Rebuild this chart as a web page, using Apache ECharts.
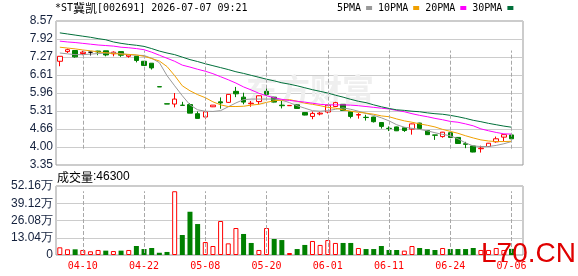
<!DOCTYPE html>
<html>
<head>
<meta charset="utf-8">
<script src="https://cdn.jsdelivr.net/npm/echarts@6/dist/echarts.min.js"></script>
<style>
  html, body { margin: 0; padding: 0; background: #fff; }
  #main { width: 578px; height: 276px; }
</style>
</head>
<body>
<div id="main"></div>
<script>
// 日期 (交易日)
const dates = ['04-07','04-08','04-09','04-10','04-13','04-14','04-15','04-16','04-17','04-20',
  '04-21','04-22','04-23','04-24','04-27','04-28','04-29','04-30','05-07','05-08',
  '05-11','05-12','05-13','05-14','05-15','05-18','05-19','05-20','05-21','05-22',
  '05-25','05-26','05-27','05-28','05-29','06-01','06-02','06-03','06-04','06-05',
  '06-08','06-09','06-10','06-11','06-12','06-15','06-16','06-17','06-18','06-22',
  '06-23','06-24','06-25','06-26','06-29','06-30','07-01','07-02','07-03','07-06']
const labelDates = ['04-10','04-22','05-08','05-20','06-01','06-11','06-24','07-06']

// K线
const opens = [7.11,7.46,7.50,7.39,7.44,7.48,7.49,7.38,7.46,7.29,
  7.29,7.11,7.04,6.19,5.57,5.56,5.52,5.54,5.21,5.09,
  5.46,5.64,5.62,6.02,5.81,5.57,5.65,6.02,5.81,5.52,
  5.50,5.53,5.25,5.11,5.20,5.27,5.47,5.55,5.28,5.16,
  5.08,5.09,4.89,4.68,4.73,4.70,4.65,4.87,4.60,4.44,
  4.38,4.52,4.35,4.12,4.04,3.94,4.02,4.19,4.36,4.44]
const closes = [7.29,7.53,7.27,7.44,7.44,7.45,7.34,7.44,7.33,7.34,
  7.14,6.96,6.87,6.18,5.56,5.74,5.51,5.23,5.04,5.28,
  5.52,5.60,5.91,5.93,5.63,5.59,5.86,5.91,5.63,5.50,
  5.51,5.40,5.16,5.22,5.23,5.52,5.61,5.33,5.11,5.18,
  5.07,4.92,4.75,4.67,4.59,4.60,4.84,4.67,4.45,4.43,
  4.54,4.35,4.13,4.10,3.82,3.96,4.14,4.30,4.45,4.30]
const lows = [6.93,7.41,7.24,7.33,7.32,7.33,7.29,7.29,7.27,7.24,
  7.07,6.95,6.81,6.18,5.56,5.44,5.51,5.23,5.04,5.01,
  5.45,5.39,5.60,5.81,5.55,5.46,5.55,5.86,5.62,5.40,
  5.50,5.39,5.15,5.01,5.15,5.22,5.47,5.32,5.04,5.03,
  4.96,4.89,4.67,4.58,4.58,4.55,4.45,4.66,4.44,4.26,
  4.34,4.34,4.12,3.96,3.81,3.80,4.01,4.16,4.21,4.26]
const highs = [7.29,7.57,7.50,7.49,7.46,7.49,7.49,7.47,7.46,7.34,
  7.29,7.12,7.04,6.19,5.57,5.96,5.64,5.59,5.29,5.28,
  5.52,5.80,5.92,6.18,5.97,5.67,5.87,6.15,5.82,5.67,
  5.51,5.54,5.26,5.29,5.27,5.53,5.64,5.56,5.29,5.23,
  5.17,5.10,4.90,4.75,4.74,4.71,4.85,4.88,4.61,4.44,
  4.55,4.53,4.36,4.19,4.05,4.05,4.15,4.38,4.46,4.50]

// 均线
const ma5 = [7.41,7.38,7.35,7.35,7.37,7.39,7.41,7.41,7.39,7.35,
  7.33,7.32,7.22,7.06,6.59,6.22,5.86,5.53,5.35,5.30,
  5.29,5.32,5.46,5.60,5.72,5.74,5.74,5.74,5.74,5.70,
  5.61,5.50,5.41,5.32,5.30,5.32,5.37,5.42,5.37,5.30,
  5.22,5.15,5.06,4.95,4.81,4.72,4.68,4.64,4.59,4.52,
  4.46,4.41,4.30,4.15,4.04,4.02,4.02,4.06,4.12,4.20]
const ma10 = [7.62,7.59,7.56,7.52,7.49,7.45,7.42,7.39,7.37,7.36,
  7.34,7.29,7.21,7.12,6.92,6.59,6.22,6.04,5.90,5.79,
  5.64,5.53,5.47,5.47,5.48,5.52,5.55,5.62,5.68,5.70,
  5.72,5.66,5.59,5.55,5.50,5.44,5.41,5.35,5.30,5.26,
  5.23,5.19,5.13,5.10,5.02,4.95,4.90,4.84,4.79,4.73,
  4.64,4.57,4.50,4.41,4.33,4.26,4.22,4.20,4.20,4.21]
const ma20 = [7.84,7.81,7.79,7.76,7.73,7.70,7.68,7.66,7.62,7.60,
  7.57,7.53,7.44,7.33,7.22,7.11,6.97,6.90,6.82,6.75,
  6.66,6.55,6.44,6.32,6.18,6.07,5.95,5.86,5.79,5.73,
  5.69,5.66,5.63,5.59,5.55,5.53,5.53,5.53,5.52,5.50,
  5.47,5.44,5.41,5.38,5.33,5.28,5.21,5.15,5.10,5.04,
  4.99,4.93,4.90,4.84,4.77,4.66,4.59,4.53,4.48,4.47]
const ma30 = [8.14,8.10,8.06,8.02,7.98,7.93,7.89,7.81,7.76,7.72,
  7.69,7.65,7.57,7.48,7.41,7.35,7.26,7.17,7.10,7.02,
  6.95,6.88,6.81,6.73,6.67,6.60,6.53,6.46,6.40,6.33,
  6.28,6.22,6.15,6.08,6.02,5.96,5.88,5.81,5.73,5.66,
  5.61,5.53,5.46,5.40,5.35,5.33,5.30,5.28,5.24,5.21,
  5.19,5.15,5.10,5.04,4.97,4.92,4.86,4.81,4.76,4.72]

// 成交量 (股)
const volumes = [58000,43000,43000,38000,28000,38000,33000,30000,33000,38000,
  68000,45000,53000,17000,23000,482000,151000,327000,234000,98000,
  68000,257000,88000,204000,159000,91000,38000,204000,121000,113000,
  15000,45000,76000,106000,76000,113000,91000,91000,91000,53000,
  45000,45000,68000,38000,38000,33000,68000,53000,45000,38000,
  53000,45000,45000,45000,53000,38000,38000,53000,38000,46300]

// 刻度
const priceTicks = [3.35, 4.00, 4.66, 5.31, 5.96, 6.61, 7.27, 7.92, 8.57]
const priceTickLabels = ['3.35','4.00','4.66','5.31','5.96','6.61','7.27','7.92','8.57']
const volTickLabels = ['0','13.04万','26.08万','39.12万','52.16万']

const RED = '#ff0000'
const GREEN = '#008000'
const MONO = 'DejaVu Sans Mono'

const myChart = echarts.init(document.getElementById('main'))

const kData = dates.map((d, i) => [opens[i], closes[i], lows[i], highs[i]])
const volData = volumes.map((v, i) => {
  const prev = i > 0 ? closes[i - 1] : opens[i]
  const up = closes[i] >= prev
  return {
    value: v,
    itemStyle: up ? { color: '#fff', borderColor: RED, borderWidth: 1 } : { color: GREEN },
  }
})
// 右侧多留一个空位
const xCats = dates.concat([''])

// 竖向虚线 (日期标签处)
const vLines = {
  silent: true,
  symbol: 'none',
  animation: false,
  precision: 0,
  label: { show: false },
  lineStyle: { color: '#a8a8a8', type: 'dashed', width: 1, opacity: 1 },
  emphasis: { lineStyle: { width: 1 } },
  data: labelDates.map(d => [
    { xAxis: d, yAxis: 'min' },
    { xAxis: d, yAxis: 'max' },
  ]),
}

const maLine = (name, data, color) => ({
  name: name,
  type: 'line',
  data: data,
  showSymbol: false,
  symbol: 'none',
  z: 3,
  lineStyle: { color: color, width: 1 },
  itemStyle: { color: color },
})

var option = {
  animation: false,
  title: [
    {
      text: '{a|*ST}{c|冀凯}{a|[002691] 2026-07-07 09:21}',
      left: 55,
      top: 1,
      padding: 0,
      textStyle: {
        fontWeight: 'normal',
        rich: {
          a: { fontFamily: MONO, fontSize: 10, fontWeight: 'normal', color: '#000', lineHeight: 14 },
          c: { fontFamily: 'Noto Sans CJK SC', fontSize: 12, fontWeight: 'normal', color: '#000', lineHeight: 14 },
        },
      },
    },
    {
      text: '{c|成交量}{a|:' + volumes[volumes.length - 1] + '}',
      left: 57,
      top: 169,
      padding: 0,
      textStyle: {
        fontWeight: 'normal',
        rich: {
          a: { fontFamily: 'Liberation Sans', fontSize: 12, fontWeight: 'normal', color: '#000', lineHeight: 16 },
          c: { fontFamily: 'Noto Sans CJK SC', fontSize: 12, fontWeight: 'normal', color: '#000', lineHeight: 16 },
        },
      },
    },
  ],
  legend: {
    data: ['5PMA', '10PMA', '20PMA', '30PMA'],
    left: 337,
    top: 3,
    padding: 0,
    icon: 'rect',
    itemWidth: 6,
    itemHeight: 4,
    itemGap: 6,
    align: 'right',
    selectedMode: false,
    textStyle: { fontFamily: MONO, fontSize: 10, color: '#000' },
  },
  grid: [
    { left: 56, right: 55, top: 21, height: 144, show: true, borderColor: '#999', borderWidth: 1 },
    { left: 56, right: 55, top: 186, height: 69, show: true, borderColor: '#999', borderWidth: 1 },
  ],
  xAxis: [
    {
      type: 'category',
      gridIndex: 0,
      data: xCats,
      boundaryGap: true,
      axisLine: { show: false },
      axisTick: { show: false },
      axisLabel: { show: false },
      splitLine: { show: false },
    },
    {
      type: 'category',
      gridIndex: 1,
      data: xCats,
      boundaryGap: true,
      axisLine: { show: false },
      axisTick: { show: false },
      axisLabel: {
        color: RED,
        fontFamily: MONO,
        fontSize: 10,
        margin: 6,
        interval: (i, v) => labelDates.indexOf(v) >= 0,
      },
      splitLine: { show: false },
    },
  ],
  yAxis: [
    {
      type: 'value',
      gridIndex: 0,
      min: 3.35,
      max: 8.57,
      axisLine: { show: false },
      axisTick: { show: false, customValues: priceTicks },
      axisLabel: {
        customValues: priceTicks,
        formatter: (v, i) => priceTickLabels[priceTicks.indexOf(Math.round(v * 100) / 100)],
        fontFamily: 'Liberation Sans',
        fontSize: 12,
        color: '#14213d',
        margin: 3,
      },
      splitLine: { show: true, lineStyle: { color: '#cccccc', width: 1 } },
    },
    {
      type: 'value',
      gridIndex: 1,
      min: 0,
      max: 521600,
      interval: 130400,
      axisLine: { show: false },
      axisTick: { show: false },
      axisLabel: {
        formatter: (v, i) => volTickLabels[Math.round(v / 130400)],
        fontFamily: 'Liberation Sans',
        fontSize: 12,
        color: '#14213d',
        margin: 3,
      },
      splitLine: { show: true, lineStyle: { color: '#cccccc', width: 1 } },
    },
  ],
  graphic: [
    {
      type: 'text',
      left: 246,
      top: 74,
      z: 1,
      silent: true,
      style: {
        text: '东方财富',
        fontFamily: 'Noto Sans CJK SC',
        fontWeight: 'bold',
        fontSize: 32,
        fill: '#efefef',
      },
    },
    {
      type: 'text',
      left: 481,
      top: 240,
      z: 100,
      silent: true,
      style: {
        text: 'L70.CN',
        fontFamily: 'Liberation Sans',
        fontSize: 28,
        fill: '#e00000',
      },
    },
  ],
  series: [
    {
      name: 'K',
      type: 'candlestick',
      xAxisIndex: 0,
      yAxisIndex: 0,
      data: kData,
      barWidth: 5,
      itemStyle: {
        color: '#fff',
        color0: GREEN,
        borderColor: RED,
        borderColor0: GREEN,
        borderColorDoji: '#000',
        borderWidth: 1,
      },
      markLine: vLines,
    },
    maLine('5PMA', ma5, '#999999'),
    maLine('10PMA', ma10, '#f0a000'),
    maLine('20PMA', ma20, '#ff00ff'),
    maLine('30PMA', ma30, '#006f3a'),
    {
      name: 'VOL',
      type: 'bar',
      xAxisIndex: 1,
      yAxisIndex: 1,
      data: volData,
      barWidth: 5,
      markLine: vLines,
    },
  ],
}
option && myChart.setOption(option)
</script>
</body>
</html>
